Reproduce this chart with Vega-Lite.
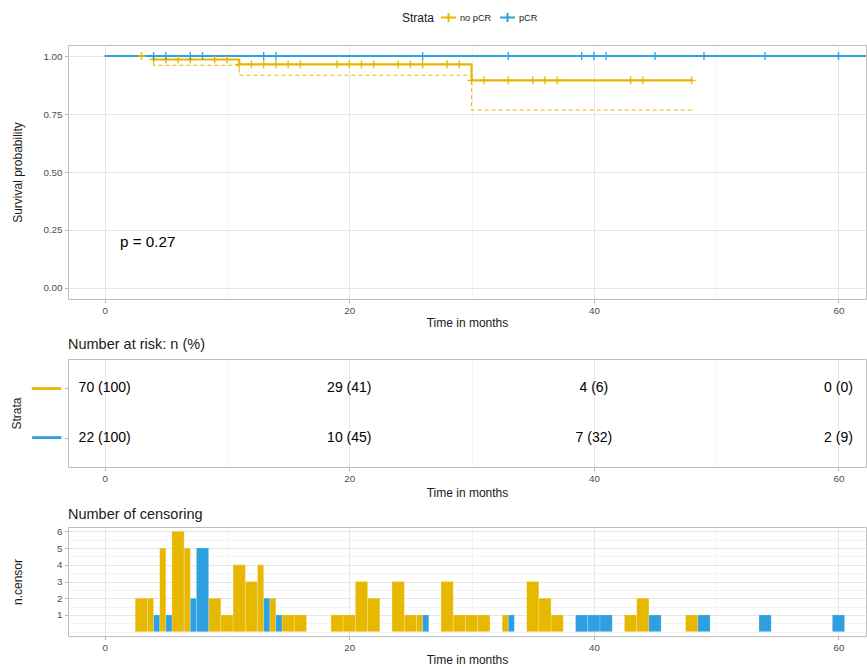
{
  "$schema": "https://vega.github.io/schema/vega-lite/v6.json",
  "background": "white",
  "padding": {"left": 10, "top": 8, "right": 0, "bottom": 0},
  "spacing": 6,
  "config": {
    "font": "Liberation Sans",
    "view": {"stroke": "#BDBDBD", "strokeWidth": 1},
    "axis": {
      "domain": false,
      "tickColor": "#B3B3B3",
      "tickSize": 3.5,
      "labelPadding": 2.5,
      "labelColor": "#4D4D4D",
      "labelFontSize": 9.8,
      "labelFont": "Liberation Sans",
      "titleFont": "Liberation Sans",
      "titleFontSize": 12,
      "titleFontWeight": "normal",
      "titleColor": "#1A1A1A",
      "gridColor": "#E6E6E6",
      "titlePadding": 3
    },
    "title": {"font": "Liberation Sans", "fontSize": 14.5, "fontWeight": "normal", "anchor": "start", "frame": "group", "color": "#1A1A1A", "offset": 7}
  },
  "vconcat": [
    {
      "width": 798,
      "height": 254,
      "resolve": {"legend": {"color": "independent"}},
      "layer": [
        {
          "data": {"values": [
            {"strata": "no pCR", "time": 0, "lower": 1},
            {"strata": "no pCR", "time": 4, "lower": 0.96},
            {"strata": "no pCR", "time": 11, "lower": 0.917},
            {"strata": "no pCR", "time": 30, "lower": 0.767},
            {"strata": "no pCR", "time": 48, "lower": 0.767}
          ]},
          "mark": {"type": "line", "interpolate": "step-after", "strokeDash": [4, 3], "strokeWidth": 1, "clip": true},
          "encoding": {
            "x": {"field": "time", "type": "quantitative", "scale": {"domain": [-3, 62.25], "nice": false, "zero": false},
              "axis": {"title": "Time in months", "values": [0, 10, 20, 30, 40, 50, 60],
                "labelExpr": "datum.value % 20 == 0 ? datum.label : ''",
                "tickOpacity": {"condition": {"test": "datum.value % 20 != 0", "value": 0}, "value": 1},
                "gridWidth": {"condition": {"test": "datum.value % 20 != 0", "value": 0.5}, "value": 1}}},
            "y": {"field": "lower", "type": "quantitative", "scale": {"domain": [-0.0475, 1.0475], "nice": false, "zero": false},
              "axis": {"title": "Survival probability", "titlePadding": 18, "values": [0, 0.125, 0.25, 0.375, 0.5, 0.625, 0.75, 0.875, 1],
                "labelExpr": "(datum.value * 8) % 2 == 0 ? format(datum.value, '.2f') : ''",
                "tickOpacity": {"condition": {"test": "(datum.value * 8) % 2 != 0", "value": 0}, "value": 1},
                "gridWidth": {"condition": {"test": "(datum.value * 8) % 2 != 0", "value": 0.5}, "value": 1}}},
            "color": {"field": "strata", "type": "nominal", "scale": {"domain": ["no pCR", "pCR"], "range": ["#E7B800", "#2E9FDF"]}, "legend": null}
          }
        },
        {
          "data": {"values": [
            {"strata": "no pCR", "time": 0, "surv": 1},
            {"strata": "no pCR", "time": 4, "surv": 0.985},
            {"strata": "no pCR", "time": 11, "surv": 0.964},
            {"strata": "no pCR", "time": 30, "surv": 0.895},
            {"strata": "no pCR", "time": 48, "surv": 0.895},
            {"strata": "pCR", "time": 0, "surv": 1},
            {"strata": "pCR", "time": 63, "surv": 1}
          ]},
          "mark": {"type": "line", "interpolate": "step-after", "strokeWidth": 2.2, "clip": true},
          "encoding": {
            "x": {"field": "time", "type": "quantitative"},
            "y": {"field": "surv", "type": "quantitative"},
            "color": {"field": "strata", "type": "nominal", "title": "Strata",
              "legend": {"orient": "none", "legendX": 334, "legendY": -36, "direction": "horizontal", "titleOrient": "left",
                "titleFontSize": 12, "titleFontWeight": "normal", "titleColor": "#1A1A1A", "titlePadding": 5,
                "labelFontSize": 9.2, "labelColor": "#1A1A1A", "labelOffset": 3, "columnPadding": 4,
                "symbolType": "M-1,0H1M0,-0.6V0.6", "symbolSize": 225, "symbolStrokeWidth": 2, "symbolFillColor": "transparent"}}
          }
        },
        {
          "data": {"values": [
            {"strata": "no pCR", "time": 3, "surv": 1},
            {"strata": "no pCR", "time": 4, "surv": 0.985},
            {"strata": "no pCR", "time": 5, "surv": 0.985},
            {"strata": "no pCR", "time": 6, "surv": 0.985},
            {"strata": "no pCR", "time": 7, "surv": 0.985},
            {"strata": "no pCR", "time": 9, "surv": 0.985},
            {"strata": "no pCR", "time": 10, "surv": 0.985},
            {"strata": "no pCR", "time": 11, "surv": 0.964},
            {"strata": "no pCR", "time": 12, "surv": 0.964},
            {"strata": "no pCR", "time": 13, "surv": 0.964},
            {"strata": "no pCR", "time": 14, "surv": 0.964},
            {"strata": "no pCR", "time": 15, "surv": 0.964},
            {"strata": "no pCR", "time": 16, "surv": 0.964},
            {"strata": "no pCR", "time": 19, "surv": 0.964},
            {"strata": "no pCR", "time": 20, "surv": 0.964},
            {"strata": "no pCR", "time": 21, "surv": 0.964},
            {"strata": "no pCR", "time": 22, "surv": 0.964},
            {"strata": "no pCR", "time": 24, "surv": 0.964},
            {"strata": "no pCR", "time": 25, "surv": 0.964},
            {"strata": "no pCR", "time": 26, "surv": 0.964},
            {"strata": "no pCR", "time": 28, "surv": 0.964},
            {"strata": "no pCR", "time": 29, "surv": 0.964},
            {"strata": "no pCR", "time": 30, "surv": 0.895},
            {"strata": "no pCR", "time": 31, "surv": 0.895},
            {"strata": "no pCR", "time": 33, "surv": 0.895},
            {"strata": "no pCR", "time": 35, "surv": 0.895},
            {"strata": "no pCR", "time": 36, "surv": 0.895},
            {"strata": "no pCR", "time": 37, "surv": 0.895},
            {"strata": "no pCR", "time": 43, "surv": 0.895},
            {"strata": "no pCR", "time": 44, "surv": 0.895},
            {"strata": "no pCR", "time": 48, "surv": 0.895},
            {"strata": "pCR", "time": 4, "surv": 1},
            {"strata": "pCR", "time": 5, "surv": 1},
            {"strata": "pCR", "time": 7, "surv": 1},
            {"strata": "pCR", "time": 8, "surv": 1},
            {"strata": "pCR", "time": 13, "surv": 1},
            {"strata": "pCR", "time": 14, "surv": 1},
            {"strata": "pCR", "time": 26, "surv": 1},
            {"strata": "pCR", "time": 33, "surv": 1},
            {"strata": "pCR", "time": 39, "surv": 1},
            {"strata": "pCR", "time": 40, "surv": 1},
            {"strata": "pCR", "time": 41, "surv": 1},
            {"strata": "pCR", "time": 45, "surv": 1},
            {"strata": "pCR", "time": 49, "surv": 1},
            {"strata": "pCR", "time": 54, "surv": 1},
            {"strata": "pCR", "time": 60, "surv": 1}
          ]},
          "mark": {"type": "point", "shape": "M-1,0H1M0,-1V1", "filled": false, "size": 64, "strokeWidth": 1.3, "opacity": 1},
          "encoding": {
            "x": {"field": "time", "type": "quantitative"},
            "y": {"field": "surv", "type": "quantitative"},
            "color": {"field": "strata", "type": "nominal", "legend": null}
          }
        },
        {
          "data": {"values": [{"x": 1.26, "y": 0.2, "label": "p = 0.27"}]},
          "mark": {"type": "text", "align": "left", "baseline": "middle", "fontSize": 15.2, "color": "#000000"},
          "encoding": {
            "x": {"field": "x", "type": "quantitative"},
            "y": {"field": "y", "type": "quantitative"},
            "text": {"field": "label"}
          }
        }
      ]
    },
    {
      "title": {"text": "Number at risk: n (%)"},
      "width": 798,
      "height": 108,
      "data": {"values": [
        {"strata": "no pCR", "time": 0, "label": "70 (100)"},
        {"strata": "no pCR", "time": 20, "label": "29 (41)"},
        {"strata": "no pCR", "time": 40, "label": "4 (6)"},
        {"strata": "no pCR", "time": 60, "label": "0 (0)"},
        {"strata": "pCR", "time": 0, "label": "22 (100)"},
        {"strata": "pCR", "time": 20, "label": "10 (45)"},
        {"strata": "pCR", "time": 40, "label": "7 (32)"},
        {"strata": "pCR", "time": 60, "label": "2 (9)"}
      ]},
      "mark": {"type": "text", "fontSize": 14, "color": "#000000", "baseline": "middle"},
      "encoding": {
        "x": {"field": "time", "type": "quantitative", "scale": {"domain": [-3, 62.25], "nice": false, "zero": false},
          "axis": {"title": "Time in months", "titlePadding": 5, "values": [0, 10, 20, 30, 40, 50, 60],
            "labelExpr": "datum.value % 20 == 0 ? datum.label : ''",
            "tickOpacity": {"condition": {"test": "datum.value % 20 != 0", "value": 0}, "value": 1},
            "gridWidth": {"condition": {"test": "datum.value % 20 != 0", "value": 0.5}, "value": 1}}},
        "y": {"field": "strata", "type": "nominal", "scale": {"type": "point", "domain": ["no pCR", "pCR"], "padding": 0.6},
          "axis": {"title": "Strata", "titlePadding": 8, "labelExpr": "'━━━'", "labelFont": "DejaVu Sans", "labelFontSize": 16, "labelPadding": 4,
            "labelColor": {"condition": {"test": "datum.value == 'no pCR'", "value": "#E7B800"}, "value": "#2E9FDF"}}},
        "text": {"field": "label"}
      }
    },
    {
      "title": {"text": "Number of censoring", "offset": 4},
      "width": 798,
      "height": 109,
      "data": {"values": [
        {"strata": "no pCR", "t_start": 2.5, "t_end": 3.5, "n": 2},
        {"strata": "no pCR", "t_start": 3.5, "t_end": 4.0, "n": 2},
        {"strata": "no pCR", "t_start": 4.5, "t_end": 5.0, "n": 5},
        {"strata": "no pCR", "t_start": 5.5, "t_end": 6.5, "n": 6},
        {"strata": "no pCR", "t_start": 6.5, "t_end": 7.0, "n": 5},
        {"strata": "no pCR", "t_start": 8.5, "t_end": 9.5, "n": 2},
        {"strata": "no pCR", "t_start": 9.5, "t_end": 10.5, "n": 1},
        {"strata": "no pCR", "t_start": 10.5, "t_end": 11.5, "n": 4},
        {"strata": "no pCR", "t_start": 11.5, "t_end": 12.5, "n": 3},
        {"strata": "no pCR", "t_start": 12.5, "t_end": 13.0, "n": 4},
        {"strata": "no pCR", "t_start": 13.5, "t_end": 14.0, "n": 2},
        {"strata": "no pCR", "t_start": 14.5, "t_end": 15.5, "n": 1},
        {"strata": "no pCR", "t_start": 15.5, "t_end": 16.5, "n": 1},
        {"strata": "no pCR", "t_start": 18.5, "t_end": 19.5, "n": 1},
        {"strata": "no pCR", "t_start": 19.5, "t_end": 20.5, "n": 1},
        {"strata": "no pCR", "t_start": 20.5, "t_end": 21.5, "n": 3},
        {"strata": "no pCR", "t_start": 21.5, "t_end": 22.5, "n": 2},
        {"strata": "no pCR", "t_start": 23.5, "t_end": 24.5, "n": 3},
        {"strata": "no pCR", "t_start": 24.5, "t_end": 25.5, "n": 1},
        {"strata": "no pCR", "t_start": 25.5, "t_end": 26.0, "n": 1},
        {"strata": "no pCR", "t_start": 27.5, "t_end": 28.5, "n": 3},
        {"strata": "no pCR", "t_start": 28.5, "t_end": 29.5, "n": 1},
        {"strata": "no pCR", "t_start": 29.5, "t_end": 30.5, "n": 1},
        {"strata": "no pCR", "t_start": 30.5, "t_end": 31.5, "n": 1},
        {"strata": "no pCR", "t_start": 32.5, "t_end": 33.0, "n": 1},
        {"strata": "no pCR", "t_start": 34.5, "t_end": 35.5, "n": 3},
        {"strata": "no pCR", "t_start": 35.5, "t_end": 36.5, "n": 2},
        {"strata": "no pCR", "t_start": 36.5, "t_end": 37.5, "n": 1},
        {"strata": "no pCR", "t_start": 42.5, "t_end": 43.5, "n": 1},
        {"strata": "no pCR", "t_start": 43.5, "t_end": 44.5, "n": 2},
        {"strata": "no pCR", "t_start": 47.5, "t_end": 48.5, "n": 1},
        {"strata": "pCR", "t_start": 4.0, "t_end": 4.5, "n": 1},
        {"strata": "pCR", "t_start": 5.0, "t_end": 5.5, "n": 1},
        {"strata": "pCR", "t_start": 7.0, "t_end": 7.5, "n": 2},
        {"strata": "pCR", "t_start": 7.5, "t_end": 8.5, "n": 5},
        {"strata": "pCR", "t_start": 13.0, "t_end": 13.5, "n": 2},
        {"strata": "pCR", "t_start": 14.0, "t_end": 14.5, "n": 1},
        {"strata": "pCR", "t_start": 26.0, "t_end": 26.5, "n": 1},
        {"strata": "pCR", "t_start": 33.0, "t_end": 33.5, "n": 1},
        {"strata": "pCR", "t_start": 38.5, "t_end": 39.5, "n": 1},
        {"strata": "pCR", "t_start": 39.5, "t_end": 40.5, "n": 1},
        {"strata": "pCR", "t_start": 40.5, "t_end": 41.5, "n": 1},
        {"strata": "pCR", "t_start": 44.5, "t_end": 45.5, "n": 1},
        {"strata": "pCR", "t_start": 48.5, "t_end": 49.5, "n": 1},
        {"strata": "pCR", "t_start": 53.5, "t_end": 54.5, "n": 1},
        {"strata": "pCR", "t_start": 59.5, "t_end": 60.5, "n": 1}
      ]},
      "mark": {"type": "bar", "stroke": "white", "strokeWidth": 0.3, "strokeOpacity": 0.7},
      "encoding": {
        "x": {"field": "t_start", "type": "quantitative", "scale": {"domain": [-3, 62.25], "nice": false, "zero": false},
          "axis": {"title": "Time in months", "values": [0, 10, 20, 30, 40, 50, 60],
            "labelExpr": "datum.value % 20 == 0 ? datum.label : ''",
            "tickOpacity": {"condition": {"test": "datum.value % 20 != 0", "value": 0}, "value": 1},
            "gridWidth": {"condition": {"test": "datum.value % 20 != 0", "value": 0.5}, "value": 1}}},
        "x2": {"field": "t_end"},
        "y": {"field": "n", "type": "quantitative", "scale": {"domain": [-0.26, 6.26], "nice": false, "zero": false},
          "axis": {"title": "n.censor", "titlePadding": 32, "values": [0, 0.5, 1, 1.5, 2, 2.5, 3, 3.5, 4, 4.5, 5, 5.5, 6],
            "labelExpr": "datum.value % 1 == 0 && datum.value > 0 ? format(datum.value, 'd') : ''",
            "tickOpacity": {"condition": {"test": "datum.value % 1 != 0 || datum.value == 0", "value": 0}, "value": 1},
            "gridWidth": {"condition": {"test": "datum.value % 1 != 0 || datum.value == 0", "value": 0.5}, "value": 1}}},
        "y2": {"datum": 0},
        "color": {"field": "strata", "type": "nominal", "scale": {"domain": ["no pCR", "pCR"], "range": ["#E7B800", "#2E9FDF"]}, "legend": null}
      }
    }
  ]
}
